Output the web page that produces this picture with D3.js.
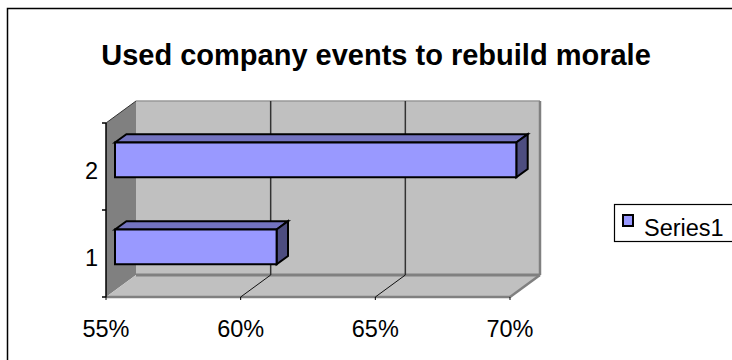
<!DOCTYPE html>
<html>
<head>
<meta charset="utf-8">
<script src="https://cdn.jsdelivr.net/npm/d3@7/dist/d3.min.js"></script>
<style>
  html, body { margin: 0; padding: 0; background: #fff; }
  svg { display: block; font-family: "Liberation Sans", Arial, sans-serif; }
</style>
</head>
<body>
<svg id="chart" width="732" height="360"></svg>
<script>
// Chart data
const title = "Used company events to rebuild morale";
const categories = ["1", "2"];
const values = [0.61, 0.699];
const xTicks = [0.55, 0.60, 0.65, 0.70];
const seriesName = "Series1";

const svg = d3.select("#chart");

// Front plane of the 3D plot box and the depth offset of the back wall
const plot = { left: 106, right: 510, top: 123, bottom: 297 };
const depth = { dx: 30, dy: -22 };
// Bars sit between these fractions of the box depth
const barFront = 0.3, barBack = 0.68;

const x = d3.scaleLinear().domain([0.55, 0.70]).range([plot.left, plot.right]);
const y = d3.scaleBand()
  .domain(categories.slice().reverse())
  .range([plot.top, plot.bottom])
  .paddingInner(0.6)
  .paddingOuter(0.3);
const yAxisBand = d3.scaleBand()
  .domain(categories.slice().reverse())
  .range([plot.top, plot.bottom]);

const P = (px, py, f) => [px + f * depth.dx, py + f * depth.dy];
const poly = pts => "M" + pts.map(p => p.join(",")).join("L") + "Z";

// Outer chart frame
svg.append("rect")
  .attr("x", 7.5).attr("y", 8.5)
  .attr("width", 800).attr("height", 400)
  .attr("fill", "none").attr("stroke", "#000").attr("stroke-width", 1.5);

// Title
svg.append("text")
  .attr("x", 376).attr("y", 65)
  .attr("text-anchor", "middle")
  .attr("font-weight", "bold")
  .attr("font-size", 29)
  .text(title);

const L = plot.left, R = plot.right, T = plot.top, B = plot.bottom;

// Back wall
svg.append("path")
  .attr("d", poly([P(L, T, 1), P(R, T, 1), P(R, B, 1), P(L, B, 1)]))
  .attr("fill", "#c0c0c0");
// Left side wall
svg.append("path")
  .attr("d", poly([P(L, T, 0), P(L, T, 1), P(L, B, 1), P(L, B, 0)]))
  .attr("fill", "#808080");
// Floor
svg.append("path")
  .attr("d", poly([P(L, B, 0), P(L, B, 1), P(R, B, 1), P(R, B, 0)]))
  .attr("fill", "#c0c0c0");

// Wall edges
const edge = (a, b, color, w) => svg.append("line")
  .attr("x1", a[0]).attr("y1", a[1]).attr("x2", b[0]).attr("y2", b[1])
  .attr("stroke", color).attr("stroke-width", w);
edge(P(L, T, 1), P(R, T, 1), "#999", 1.5);
edge(P(R, T, 1), P(R, B, 1), "#808080", 2.5);
edge(P(L, B, 1), P(R, B, 1), "#808080", 3);
edge(P(R, B, 0), P(R, B, 1), "#808080", 2.5);
edge(P(L, B, 0), P(R, B, 0), "#808080", 2.5);
edge(P(L, T, 0), P(L, T, 1), "#333", 1);

// Gridlines on back wall and across the floor
xTicks.slice(1, -1).forEach(t => {
  edge(P(x(t), T, 1), P(x(t), B, 1), "#333", 1.5);
  edge(P(x(t), B, 0), P(x(t), B, 1), "#111", 1);
});

// Bars: front, top and right faces
const bars = svg.append("g");
categories.forEach((c, i) => {
  const v = values[i];
  const y0 = y(c), y1 = y(c) + y.bandwidth();
  const x0 = x(0.55), x1 = x(v);
  const g = bars.append("g")
    .attr("stroke", "#000").attr("stroke-width", 2).attr("stroke-linejoin", "miter");
  g.append("path")
    .attr("d", poly([P(x0, y0, barFront), P(x0, y0, barBack), P(x1, y0, barBack), P(x1, y0, barFront)]))
    .attr("fill", "#7373bf");
  g.append("path")
    .attr("d", poly([P(x1, y0, barFront), P(x1, y0, barBack), P(x1, y1, barBack), P(x1, y1, barFront)]))
    .attr("fill", "#4d4d80");
  g.append("path")
    .attr("d", poly([P(x0, y0, barFront), P(x1, y0, barFront), P(x1, y1, barFront), P(x0, y1, barFront)]))
    .attr("fill", "#9999ff");
});

// Category axis
edge([L, T], [L, B], "#000", 1.5);
[T, T + yAxisBand.step(), B].forEach(ty => edge([L - 4, ty], [L, ty], "#000", 1.5));
svg.append("g").selectAll("text").data(categories).join("text")
  .attr("x", 98)
  .attr("y", d => yAxisBand(d) + yAxisBand.bandwidth() / 2 + 12.5)
  .attr("text-anchor", "end")
  .attr("font-size", 23.5)
  .text(d => d);

// Value axis ticks and labels
xTicks.forEach(t => edge([x(t), B], [x(t), B + 3], "#000", 1));
svg.append("g").selectAll("text").data(xTicks).join("text")
  .attr("x", d => x(d))
  .attr("y", 337)
  .attr("text-anchor", "middle")
  .attr("font-size", 23.5)
  .text(d => d3.format(".0%")(d));

// Legend
svg.append("rect")
  .attr("x", 614.5).attr("y", 204.5)
  .attr("width", 130).attr("height", 37)
  .attr("fill", "#fff").attr("stroke", "#000").attr("stroke-width", 1.2);
svg.append("rect")
  .attr("x", 623).attr("y", 215)
  .attr("width", 10).attr("height", 11)
  .attr("fill", "#9999ff").attr("stroke", "#000").attr("stroke-width", 2);
svg.append("text")
  .attr("x", 644).attr("y", 236)
  .attr("font-size", 23.5)
  .text(seriesName);
</script>
</body>
</html>
